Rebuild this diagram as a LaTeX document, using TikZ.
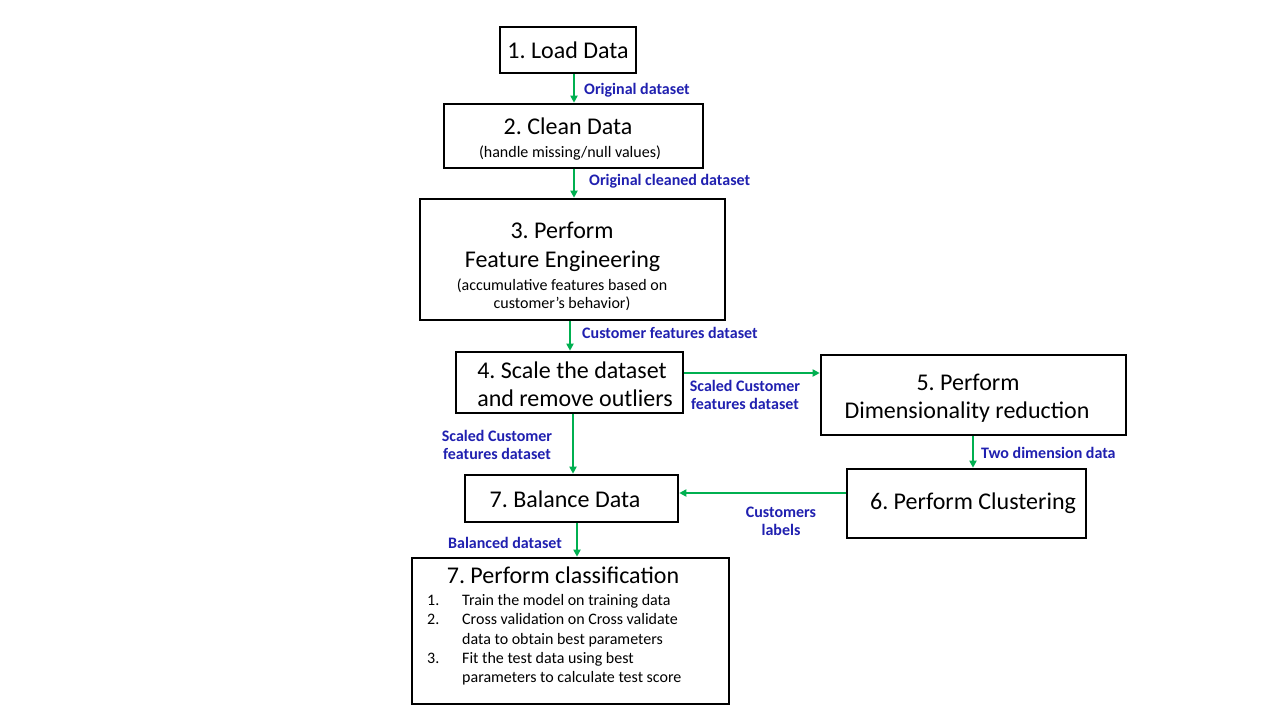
\documentclass[tikz,border=0pt]{standalone}
\usepackage{fontspec}
\setmainfont{Carlito}
\usetikzlibrary{arrows.meta}
\definecolor{flowgreen}{RGB}{0,176,80}
\definecolor{lblblue}{RGB}{32,32,176}
\frenchspacing
\begin{document}
\begin{tikzpicture}[x=1pt,y=-1pt,
  box/.style={draw,line width=2.6pt,inner sep=0pt,align=center,font=\fontsize{24}{29}\selectfont},
  big/.style={inner sep=0pt,font=\fontsize{24}{29}\selectfont,text height=15pt,text depth=0pt},
  small/.style={inner sep=0pt,font=\fontsize{16}{19}\selectfont,text height=10pt,text depth=0pt},
  arr/.style={draw=flowgreen,line width=1.8pt,-{Triangle[length=7pt,width=7pt]}},
  lbl/.style={text=lblblue,font=\bfseries\fontsize{16}{18}\selectfont,inner sep=0pt,align=center,text height=10pt,text depth=0pt}]
\fill[white] (0,0) rectangle (1280,720);
\useasboundingbox (0,0) rectangle (1280,720);

% boxes
\node[box,minimum width=136pt,minimum height=46pt] (b1) at (568,50) {};
\node[big] (t1) at (568,51) {1. Load Data};

\node[box,minimum width=259pt,minimum height=64pt] (b2) at (573.5,136) {};
\node[big] (t2a) at (568,127) {2. Clean Data};
\node[small] (t2b) at (570,152) {(handle missing/null values)};

\node[box,minimum width=305pt,minimum height=121pt] (b3) at (572.5,259.5) {};
\node[big] (t3a) at (562,231) {3. Perform};
\node[big] (t3b) at (562.5,260) {Feature Engineering};
\node[small] (t3c) at (562,285) {(accumulative features based on};
\node[small] (t3d) at (562,303) {customer’s behavior)};

\node[box,minimum width=227pt,minimum height=61pt] (b4) at (569.5,382.5) {};
\node[big] (t4a) at (572,371) {4. Scale the dataset};
\node[big] (t4b) at (575,399) {and remove outliers};

\node[box,minimum width=305pt,minimum height=80pt] (b5) at (973.5,395) {};
\node[big] (t5a) at (968,383) {5. Perform};
\node[big] (t5b) at (967,411) {Dimensionality reduction};

\node[box,minimum width=239pt,minimum height=69pt] (b6) at (966.5,503.5) {};
\node[big] (t6) at (973,502) {6. Perform Clustering};

\node[box,minimum width=213pt,minimum height=47pt] (b7) at (571.5,498.5) {};
\node[big] (t7) at (565,500) {7. Balance Data};

\node[box,minimum width=317pt,minimum height=146pt] (b8) at (570.5,631) {};
\node[big] (t8) at (563,576) {7. Perform classification};
\node[anchor=north west,inner sep=0pt,font=\fontsize{16}{19.2}\selectfont] (t8list) at (427,592)
  {\begin{tabular}{@{}p{35pt}@{}l@{}}
   1. & Train the model on training data\\
   2. & Cross validation on Cross validate\\
      & data to obtain best parameters\\
   3. & Fit the test data using best\\
      & parameters to calculate test score
   \end{tabular}};

% connectors
\draw[arr] ([xshift=6pt]b1.south) -- ([xshift=0.5pt]b2.north);
\draw[arr] ([xshift=0.5pt]b2.south) -- ([xshift=1.5pt]b3.north);
\draw[arr] ([xshift=-2.5pt]b3.south) -- ([xshift=0.5pt]b4.north);
\draw[arr] ([yshift=9.5pt]b4.east) -- ([yshift=22pt]b5.west);
\draw[arr] ([xshift=-0.5pt]b5.south) -- ([xshift=6.5pt]b6.north);
\draw[arr] ([xshift=3.5pt]b4.south) -- ([xshift=1.5pt]b7.north);
\draw[arr] ([yshift=10.5pt]b6.west) -- ([yshift=5.5pt]b7.east);
\draw[arr] ([xshift=5.5pt]b7.south) -- ([xshift=6.5pt]b8.north);

% labels
\node[lbl,anchor=west] (l1) at (584,89) {Original dataset};
\node[lbl,anchor=west] (l2) at (589,180) {Original cleaned dataset};
\node[lbl,anchor=west] (l3) at (582,333) {Customer features dataset};
\node[lbl] (l4a) at (745,386) {Scaled Customer};
\node[lbl] (l4b) at (745,404) {features dataset};
\node[lbl] (l5a) at (497,436) {Scaled Customer};
\node[lbl] (l5b) at (497,454) {features dataset};
\node[lbl,anchor=west] (l6) at (981,453) {Two dimension data};
\node[lbl] (l7a) at (781,512) {Customers};
\node[lbl] (l7b) at (781,530) {labels};
\node[lbl] (l8) at (505,543) {Balanced dataset};
\end{tikzpicture}
\end{document}
